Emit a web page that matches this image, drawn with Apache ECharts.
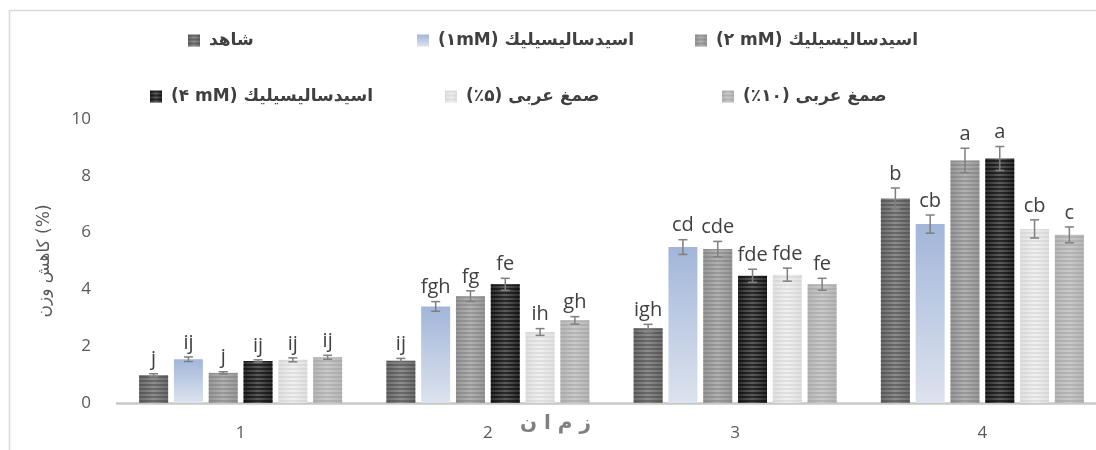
<!DOCTYPE html>
<html>
<head>
<meta charset="utf-8">
<script src="https://cdn.jsdelivr.net/npm/echarts@6/dist/echarts.min.js"></script>
<style>html,body{margin:0;padding:0;background:#fff;overflow:hidden;width:1096px;height:450px}#c{width:1112px;height:450px}</style>
</head>
<body>
<div id="c"></div>
<script>
const categories = ['1', '2', '3', '4'];
const seriesNames = ['شاهد', '(۱mM) اسیدسالیسیلیك', '(۲ mM) اسیدسالیسیلیك', '(۴ mM) اسیدسالیسیلیك', '(٪۵) صمغ عربی', '(٪۱۰) صمغ عربی'];
const values = [
  [0.98, 1.49, 2.63, 7.20],
  [1.54, 3.40, 5.49, 6.30],
  [1.06, 3.76, 5.42, 8.54],
  [1.48, 4.18, 4.48, 8.61],
  [1.52, 2.50, 4.52, 6.13],
  [1.61, 2.91, 4.18, 5.92]
];
const errors = [
  [0.05, 0.08, 0.14, 0.37],
  [0.08, 0.17, 0.26, 0.32],
  [0.04, 0.19, 0.27, 0.43],
  [0.04, 0.21, 0.23, 0.42],
  [0.07, 0.12, 0.23, 0.32],
  [0.07, 0.13, 0.21, 0.28]
];
const letters = [
  ['j', 'ij', 'igh', 'b'],
  ['ij', 'fgh', 'cd', 'cb'],
  ['j', 'fg', 'cde', 'a'],
  ['ij', 'fe', 'fde', 'a'],
  ['ij', 'ih', 'fde', 'cb'],
  ['ij', 'gh', 'fe', 'c']
];
const yTicks = { min: 0, max: 10, interval: 2 };
const yName = 'کاهش وزن (%)';
const xName = 'ز م ا ن';

const BAR_W = 29, BAR_GAP = 0.2;
function hGrad(edge, mid) {
  return { type: 'linear', x: 0, y: 0, x2: 1, y2: 0, colorStops: [
    { offset: 0, color: edge }, { offset: 0.5, color: mid }, { offset: 1, color: edge }] };
}
const styles = [
  { color: hGrad('#6c6c6c', '#8e8e8e'), decal: 'rgba(60,60,60,0.45)' },
  { color: { type: 'linear', x: 0, y: 0, x2: 0, y2: 1, colorStops: [{ offset: 0, color: '#a2b6da' }, { offset: 1, color: '#dde3ee' }] }, decal: null },
  { color: hGrad('#979797', '#b2b2b2'), decal: 'rgba(120,120,120,0.45)' },
  { color: hGrad('#2c2c2c', '#5c5c5c'), decal: 'rgba(0,0,0,0.55)' },
  { color: hGrad('#e0e0e0', '#f0f0f0'), decal: 'rgba(205,205,205,0.45)' },
  { color: hGrad('#b6b6b6', '#cacaca'), decal: 'rgba(160,160,160,0.5)' }
];

const chart = echarts.init(document.getElementById('c'), null, { renderer: 'canvas' });

const barSeries = seriesNames.map((name, i) => {
  const st = styles[i];
  const itemStyle = { color: st.color };
  if (st.decal) {
    itemStyle.decal = { symbol: 'rect', symbolSize: 1, dashArrayX: [1, 0], dashArrayY: [1.5, 1.8], rotation: 0, color: st.decal };
  }
  return {
    name, type: 'bar', data: values[i], barWidth: BAR_W, barGap: (BAR_GAP * 100) + '%',
    itemStyle, emphasis: { disabled: true }, silent: true, z: 2
  };
});

const errData = [];
values.forEach((arr, s) => arr.forEach((v, c) => errData.push([c, s, v, errors[s][c]])));

const errSeries = {
  type: 'custom', silent: true, z: 5, data: errData,
  encode: { x: 0, y: 2 },
  renderItem: function (params, api) {
    const c = api.value(0), s = api.value(1), v = api.value(2), e = api.value(3);
    const pitch = BAR_W * (1 + BAR_GAP);
    const x = api.coord([c, 0])[0] + (s - 2.5) * pitch;
    const yT = api.coord([c, v + e])[1];
    const yB = api.coord([c, v - e])[1];
    const cap = 4.5;
    const ls = { stroke: '#7f7f7f', lineWidth: 1.5 };
    return {
      type: 'group', children: [
        { type: 'line', shape: { x1: x, y1: yT, x2: x, y2: yB }, style: ls },
        { type: 'line', shape: { x1: x - cap, y1: yT, x2: x + cap, y2: yT }, style: ls },
        { type: 'line', shape: { x1: x - cap, y1: yB, x2: x + cap, y2: yB }, style: ls },
        { type: 'text', style: { x: x, y: yT - 4, text: letters[s][c], align: 'center', verticalAlign: 'bottom',
            fill: '#404040', font: '20px "Open Sans"' } }
      ]
    };
  }
};

const legendPos = [[183, 27], [412, 27], [690, 27], [145, 83], [440, 83], [717, 83]];
const legends = seriesNames.map((n, i) => ({
  data: [n], left: legendPos[i][0], top: legendPos[i][1], icon: 'rect', itemWidth: 12, itemHeight: 12,
  selectedMode: false,
  textStyle: { fontFamily: 'DejaVu Sans', fontWeight: 'bold', fontSize: 17, color: '#404040', padding: [0, 0, 0, 4] }
}));

chart.setOption({
  animation: false,
  backgroundColor: '#fff',
  legend: legends,
  grid: { left: 117, right: 6, top: 119, bottom: 47, containLabel: false },
  xAxis: {
    type: 'category', data: categories,
    axisLine: { show: true, lineStyle: { color: '#c8c8c8', width: 2.5 } },
    axisTick: { show: false },
    axisLabel: { margin: 22, color: '#595959', fontSize: 17, fontFamily: 'Open Sans' }
  },
  yAxis: {
    type: 'value', min: yTicks.min, max: yTicks.max, interval: yTicks.interval,
    axisLine: { show: false }, axisTick: { show: false }, splitLine: { show: false },
    axisLabel: { margin: 26, color: '#595959', fontSize: 17, fontFamily: 'Open Sans' },
    name: yName, nameLocation: 'middle', nameGap: 64,
    nameTextStyle: { color: '#595959', fontSize: 17, fontFamily: 'DejaVu Sans' }
  },
  graphic: [
    { type: 'rect', shape: { x: 9.5, y: 10.5, width: 1200, height: 600 }, style: { fill: null, stroke: '#d9d9d9', lineWidth: 1.5 }, silent: true, z: -1 },
    { type: 'text', left: 520, top: 414, style: { text: xName, fill: '#808080', font: 'bold 20px "DejaVu Sans"' }, silent: true }
  ],
  series: barSeries.concat([errSeries])
});
</script>
</body>
</html>
